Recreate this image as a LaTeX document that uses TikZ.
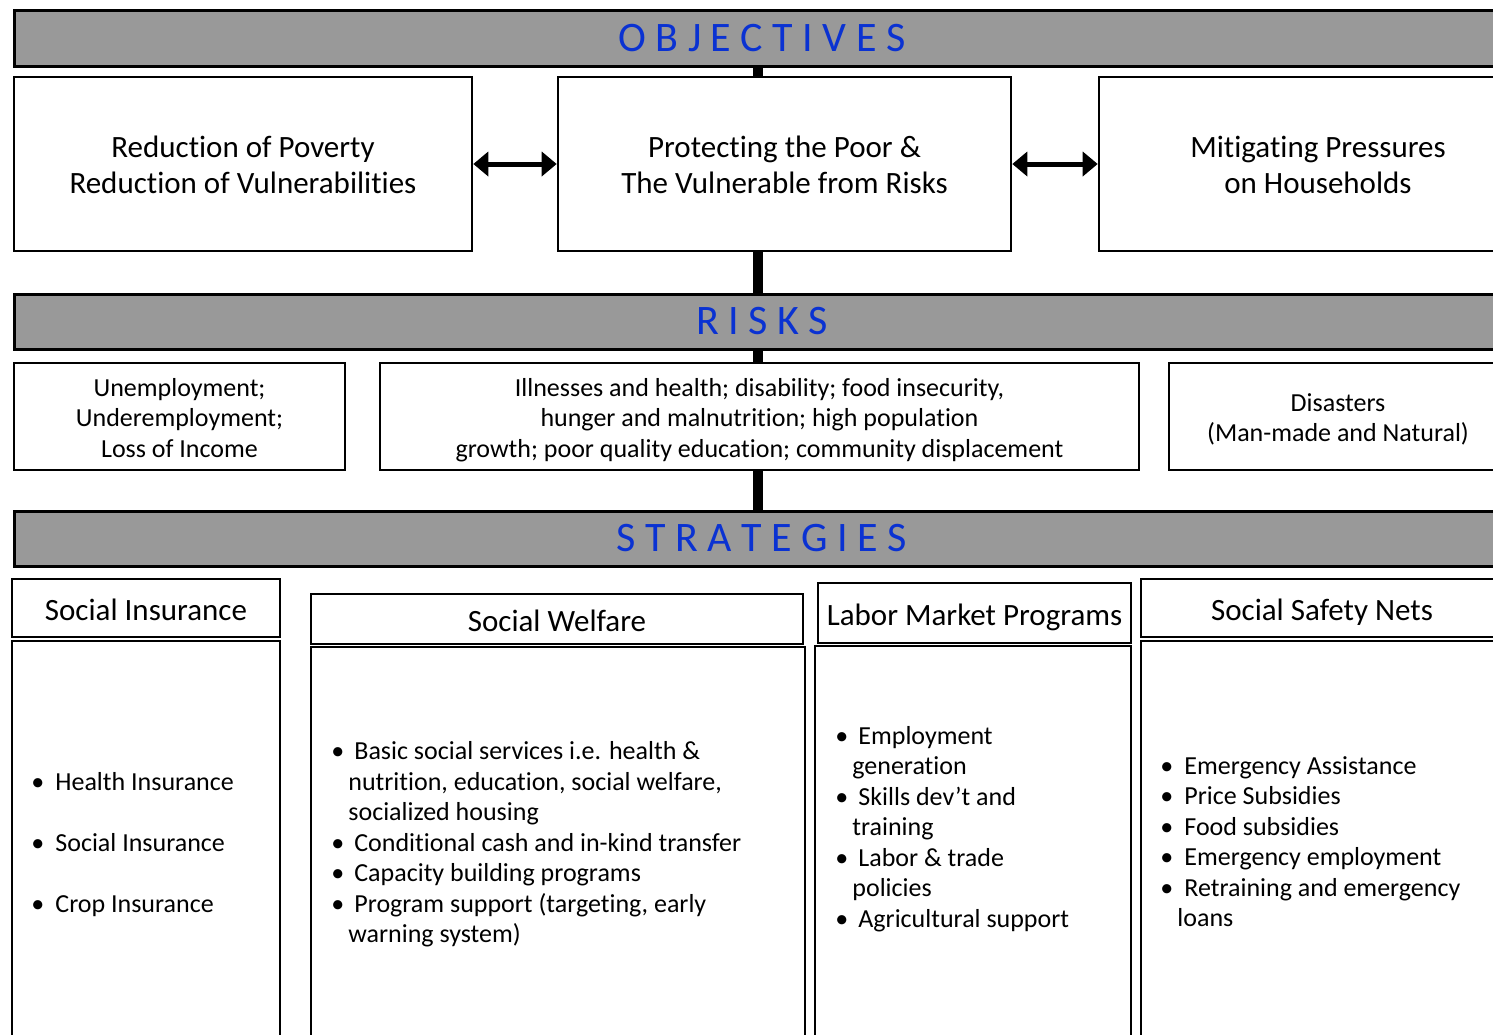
\documentclass[tikz,border=0pt]{standalone}
\usepackage{fontspec}
\setmainfont{Carlito}[Ligatures=NoCommon]
\usetikzlibrary{arrows.meta,backgrounds}
\definecolor{bandgray}{HTML}{999999}
\definecolor{titleblue}{RGB}{10,50,210}
\newcommand{\htstrut}[1]{\rule{0pt}{#1}}
\begin{document}
\begin{tikzpicture}[x=0.5pt,y=-0.5pt,
  bx/.style={draw=black, line width=1.3pt, fill=white, inner sep=0pt, align=center},
  band/.style={draw=black, line width=1.5pt, fill=bandgray, inner sep=0pt, minimum width=748pt, text=titleblue, font=\fontsize{21}{25}\selectfont},
  objtxt/.style={font=\fontsize{15.5}{18}\selectfont, minimum height=87pt},
  risktxt/.style={font=\fontsize{13}{15.25}\selectfont, minimum height=53.5pt},
  hdtxt/.style={font=\fontsize{15.5}{18}\selectfont},
  bltxt/.style={font=\fontsize{13}{15.25}\selectfont, align=left, inner sep=0pt, anchor=west},
  arr/.style={line width=2.5pt, arrows={Triangle[length=7.5pt,width=12pt]-Triangle[length=7.5pt,width=12pt]}},
  vline/.style={line width=5pt}]
\useasboundingbox (0,0) rectangle (1493,1034);
\clip (0,0) rectangle (1493,1034);

% bands
\node[band, minimum height=28pt] (objband) at (762,38) {O B J E C T I V E S};
\node[band, minimum height=27.5pt] (riskband) at (762,321.5) {R I S K S};
\node[band, minimum height=27.5pt] (strband) at (762,538.5) {S T R A T E G I E S};

% vertical connector behind everything
\begin{scope}[on background layer]
\draw[vline] ([xshift=-2pt]objband.south) -- ([xshift=-2pt]strband.north);
\end{scope}

% objectives
\node[bx, objtxt, minimum width=229pt] (ob1) at (243,164) {\htstrut{16.6pt}Reduction of Poverty\\Reduction of Vulnerabilities\strut};
\node[bx, objtxt, minimum width=226.5pt] (ob2) at (784.5,164) {\htstrut{16.6pt}Protecting the Poor \&\\The Vulnerable from Risks\strut};
\node[bx, objtxt, minimum width=219pt] (ob3) at (1318,164) {\htstrut{16.6pt}Mitigating Pressures\\on Households\strut};
\draw[arr] (ob1.east) -- (ob2.west);
\draw[arr] (ob2.east) -- (ob3.west);

% risks
\node[bx, risktxt, minimum width=165.5pt] (r1) at (179.5,416.5) {\htstrut{14.7pt}Unemployment;\\Underemployment;\\Loss of Income\strut};
\node[bx, risktxt, minimum width=379.5pt] (r2) at (759.5,416.5) {\htstrut{14.7pt}Illnesses and health; disability; food insecurity,\\hunger and malnutrition; high population\\growth; poor quality education; community displacement\strut};
\node[bx, risktxt, minimum width=169pt] (r3) at (1338,416.5) {\htstrut{14.7pt}Disasters\\(Man-made and Natural)\strut};

% strategy headers
\node[bx, hdtxt, minimum width=134pt, minimum height=29pt] (h1) at (146,608) {\htstrut{17.6pt}Social Insurance\strut};
\node[bx, hdtxt, minimum width=246pt, minimum height=25pt] (h2) at (557,619) {\htstrut{17.6pt}Social Welfare\strut};
\node[bx, hdtxt, minimum width=156.5pt, minimum height=30pt] (h3) at (974.5,613) {\htstrut{17.6pt}Labor Market Programs\strut};
\node[bx, hdtxt, minimum width=181pt, minimum height=29pt] (h4) at (1322,608) {\htstrut{17.6pt}Social Safety Nets\strut};

% strategy bodies
\node[bx, minimum width=134pt, minimum height=202pt] (b1) at (146,843) {};
\node[bx, minimum width=247pt, minimum height=199pt] (b2) at (558,846) {};
\node[bx, minimum width=158pt, minimum height=199.5pt] (b3) at (973,845.5) {};
\node[bx, minimum width=181pt, minimum height=202pt] (b4) at (1322,843) {};

% bullet lists
\node[bltxt] (l1) at (31,845) {\strut\makebox[12pt][l]{•}Health Insurance\\[15.25pt]
\makebox[12pt][l]{•}Social Insurance\\[15.25pt]
\makebox[12pt][l]{•}Crop Insurance\strut};

\node[bltxt] (l2) at (331,845) {\strut\makebox[11.5pt][l]{•}Basic social services i.e. health \&\\
\hspace*{8.5pt}nutrition, education, social welfare,\\
\hspace*{8.5pt}socialized housing\\
\makebox[11.5pt][l]{•}Conditional cash and in-kind transfer\\
\makebox[11.5pt][l]{•}Capacity building programs\\
\makebox[11.5pt][l]{•}Program support (targeting, early\\
\hspace*{8.5pt}warning system)\strut};

\node[bltxt] (l3) at (835,829.5) {\strut\makebox[11.5pt][l]{•}Employment\\
\hspace*{8.5pt}generation\\
\makebox[11.5pt][l]{•}Skills dev’t and\\
\hspace*{8.5pt}training\\
\makebox[11.5pt][l]{•}Labor \& trade\\
\hspace*{8.5pt}policies\\
\makebox[11.5pt][l]{•}Agricultural support\strut};

\node[bltxt] (l4) at (1160,844.5) {\strut\makebox[12pt][l]{•}Emergency Assistance\\
\makebox[12pt][l]{•}Price Subsidies\\
\makebox[12pt][l]{•}Food subsidies\\
\makebox[12pt][l]{•}Emergency employment\\
\makebox[12pt][l]{•}Retraining and emergency\\
\hspace*{8.5pt}loans\strut};
\end{tikzpicture}
\end{document}
